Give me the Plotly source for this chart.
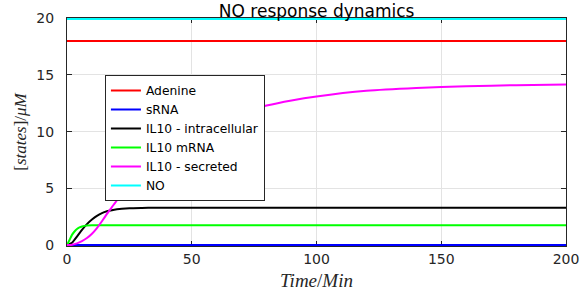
import plotly.graph_objects as go

# ---- data ----
t_sec = [0, 2, 4, 6, 8, 10, 12, 14, 16, 18, 20, 22, 25, 28, 31, 35, 40, 45, 50,
         60, 70, 80, 90, 100, 120, 140, 160, 180, 200]
il10_secreted = [0, 0.03, 0.15, 0.35, 0.62, 1.0, 1.5, 2.1, 2.75, 3.35, 3.95, 4.5,
                 5.3, 6.05, 6.8, 7.5, 8.3, 9.1, 9.75, 10.85, 11.7, 12.3, 12.75,
                 13.1, 13.6, 13.85, 14.0, 14.1, 14.15]

t_int = [0, 2, 4, 6, 8, 10, 12, 14, 16, 18, 20, 22, 25, 30, 35, 40, 200]
il10_intra = [0, 0.2, 0.75, 1.35, 1.85, 2.25, 2.58, 2.82, 2.98, 3.08, 3.15, 3.2,
              3.25, 3.28, 3.3, 3.3, 3.3]

t_mrna = [0, 1, 2, 3, 4, 5, 6, 8, 10, 15, 200]
il10_mrna = [0, 0.45, 0.9, 1.2, 1.42, 1.56, 1.64, 1.72, 1.74, 1.75, 1.75]

t_const = [0, 200]
adenine = [18, 18]
srna = [0, 0]
no_level = [19.93, 19.93]

x_ticks = [0, 50, 100, 150, 200]
y_ticks = [0, 5, 10, 15, 20]

series = [
    ("Adenine", t_const, adenine, "#ff0000"),
    ("sRNA", t_const, srna, "#0000ff"),
    ("IL10 - intracellular", t_int, il10_intra, "#000000"),
    ("IL10 mRNA", t_mrna, il10_mrna, "#00ff00"),
    ("IL10 - secreted", t_sec, il10_secreted, "#ff00ff"),
    ("NO", t_const, no_level, "#00ffff"),
]

fig = go.Figure()
for name, xs, ys, col in series:
    fig.add_trace(go.Scatter(x=xs, y=ys, mode="lines", name=name,
                             line=dict(color=col, width=2, shape="spline", smoothing=0.5)))

axis_common = dict(
    showline=True, linecolor="#262626", linewidth=1, mirror="ticks",
    ticks="inside", ticklen=5, tickcolor="#262626",
    showgrid=True, gridcolor="#e3e3e3", gridwidth=1,
    zeroline=False, layer="below traces", automargin=False,
    tickfont=dict(family="DejaVu Sans", size=14, color="#262626"),
)

fig.update_layout(
    width=581, height=295,
    margin=dict(l=67, r=15, t=18, b=49),
    paper_bgcolor="white", plot_bgcolor="white",
    title=dict(text="NO response dynamics", x=0.545, xanchor="center",
               y=0.982, yanchor="top",
               font=dict(family="DejaVu Sans", size=17, color="#000000")),
    xaxis=dict(range=[0, 200], tickvals=x_ticks,
               title=dict(text="<i>Time</i>/<i>Min</i>", standoff=7,
                          font=dict(family="Liberation Serif", size=19, color="#262626")),
               **axis_common),
    yaxis=dict(range=[-0.08, 20.02], tickvals=y_ticks, ticklabelstandoff=9,
               title=dict(text="[<i>states</i>]/<i>μM</i>", standoff=5,
                          font=dict(family="Liberation Serif", size=17, color="#262626")),
               **axis_common),
    legend=dict(x=0.076, y=0.75, xanchor="left", yanchor="top",
                bgcolor="white", bordercolor="#262626", borderwidth=1,
                font=dict(family="DejaVu Sans", size=12.3, color="#000000"),
                tracegroupgap=0, itemwidth=30),
    showlegend=True,
)

fig.write_html("out.html", config={"displayModeBar": False},
               post_script="document.body.style.margin='0';document.body.style.padding='0';")
